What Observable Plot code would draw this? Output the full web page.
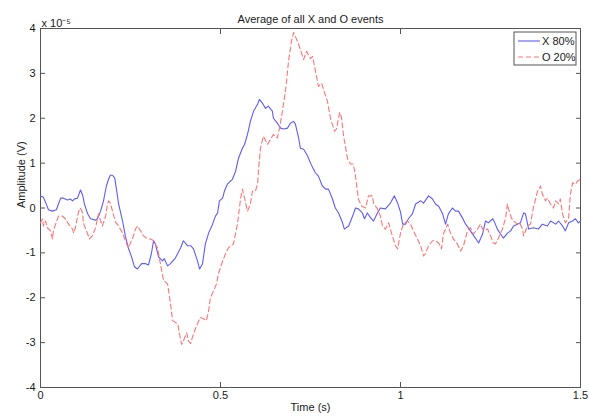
<!DOCTYPE html>
<html><head><meta charset="utf-8">
<script src="https://cdn.jsdelivr.net/npm/d3@7"></script>
<script src="https://cdn.jsdelivr.net/npm/@observablehq/plot@0.6"></script>
<style>
html,body{margin:0;padding:0;background:#fff;}
#chart{width:589px;height:416px;}
</style></head><body><div id="chart"></div>
<script>
const title = "Average of all X and O events";
const xLabel = "Time (s)";
const yLabel = "Amplitude (V)";
const yExponent = "x 10⁻⁵";
const xTicks = [0, 0.5, 1, 1.5];
const yTicks = [-4, -3, -2, -1, 0, 1, 2, 3, 4];
const seriesNames = ["X 80%", "O 20%"];
const seriesColors = ["#5c5cff", "#ff7474"];

// X 80% : time (s) and amplitude (x 10^-5 V)
const xTime = [0,0.008,0.017,0.022,0.033,0.044,0.056,0.064,0.075,0.083,0.089,0.094,0.103,0.111,0.117,0.122,0.131,0.139,0.153,0.158,0.167,0.175,0.183,0.189,0.194,0.2,0.206,0.211,0.217,0.228,0.236,0.244,0.253,0.261,0.269,0.281,0.292,0.3,0.308,0.314,0.319,0.328,0.339,0.344,0.353,0.361,0.375,0.389,0.397,0.408,0.417,0.425,0.436,0.442,0.45,0.458,0.467,0.478,0.486,0.492,0.497,0.506,0.511,0.519,0.533,0.542,0.55,0.561,0.567,0.575,0.583,0.592,0.603,0.608,0.617,0.625,0.633,0.644,0.647,0.658,0.667,0.675,0.686,0.694,0.703,0.708,0.717,0.722,0.731,0.742,0.75,0.758,0.764,0.772,0.783,0.792,0.8,0.811,0.819,0.828,0.839,0.844,0.856,0.867,0.875,0.883,0.894,0.9,0.908,0.917,0.925,0.936,0.944,0.958,0.972,0.983,0.992,1.0,1.006,1.014,1.022,1.033,1.042,1.056,1.064,1.078,1.089,1.097,1.106,1.117,1.125,1.133,1.144,1.153,1.161,1.172,1.181,1.194,1.208,1.217,1.228,1.236,1.244,1.256,1.261,1.269,1.278,1.286,1.297,1.306,1.314,1.325,1.333,1.342,1.347,1.356,1.369,1.383,1.394,1.408,1.417,1.431,1.439,1.45,1.458,1.467,1.478,1.486,1.494,1.5];
const xAmp = [0.27,0.24,0.07,-0.04,-0.07,-0.04,0.22,0.22,0.18,0.2,0.16,0.2,0.22,0.4,0.29,0.09,-0.13,-0.24,-0.27,-0.24,-0.07,0.16,0.49,0.64,0.73,0.73,0.67,0.42,0.09,-0.29,-0.64,-0.89,-1.09,-1.31,-1.36,-1.24,-1.24,-1.27,-1.02,-0.73,-0.8,-1.09,-1.18,-1.13,-1.29,-1.24,-1.11,-0.89,-0.73,-0.84,-0.84,-0.91,-1.18,-1.36,-1.24,-0.8,-0.56,-0.36,-0.18,-0.11,0.16,0.22,0.38,0.53,0.64,0.82,1.11,1.33,1.42,1.64,1.93,2.16,2.31,2.42,2.33,2.22,2.27,2.16,2.0,1.89,1.78,1.76,1.78,1.89,1.93,1.87,1.56,1.33,1.31,1.16,1.0,0.87,0.78,0.71,0.49,0.42,0.42,0.2,0.0,-0.11,-0.33,-0.47,-0.4,-0.18,0.0,-0.02,-0.11,-0.24,-0.11,-0.22,-0.29,-0.11,0.0,-0.02,0.11,0.27,0.11,-0.09,-0.36,-0.36,-0.24,-0.13,0.09,0.16,0.11,0.27,0.2,0.09,0.04,-0.13,-0.36,-0.13,0.0,-0.07,-0.07,-0.22,-0.36,-0.51,-0.67,-0.78,-0.58,-0.29,-0.33,-0.24,-0.31,-0.47,-0.58,-0.67,-0.56,-0.51,-0.4,-0.36,-0.33,-0.11,-0.13,-0.47,-0.44,-0.47,-0.36,-0.4,-0.29,-0.36,-0.29,-0.4,-0.51,-0.33,-0.29,-0.24,-0.33,-0.29];

// O 20% : time (s) and amplitude (x 10^-5 V)
const oTime = [0,0.006,0.008,0.014,0.019,0.028,0.033,0.036,0.042,0.05,0.061,0.069,0.078,0.089,0.092,0.097,0.106,0.111,0.117,0.119,0.131,0.136,0.144,0.153,0.161,0.167,0.172,0.181,0.186,0.189,0.194,0.2,0.208,0.217,0.228,0.236,0.244,0.256,0.264,0.269,0.278,0.286,0.297,0.306,0.314,0.325,0.333,0.342,0.353,0.361,0.367,0.381,0.386,0.392,0.397,0.406,0.411,0.417,0.425,0.436,0.444,0.453,0.461,0.467,0.472,0.481,0.489,0.494,0.506,0.514,0.522,0.536,0.547,0.556,0.561,0.564,0.575,0.583,0.589,0.597,0.603,0.606,0.611,0.619,0.631,0.639,0.647,0.658,0.664,0.672,0.681,0.689,0.697,0.703,0.714,0.722,0.731,0.739,0.75,0.756,0.764,0.772,0.781,0.786,0.797,0.806,0.817,0.822,0.831,0.836,0.842,0.853,0.861,0.869,0.875,0.883,0.892,0.903,0.911,0.922,0.925,0.936,0.944,0.95,0.958,0.967,0.975,0.986,0.992,1.0,1.008,1.019,1.028,1.036,1.047,1.056,1.064,1.069,1.078,1.089,1.097,1.106,1.114,1.119,1.131,1.139,1.147,1.158,1.167,1.175,1.186,1.194,1.203,1.214,1.222,1.231,1.242,1.25,1.258,1.264,1.272,1.283,1.292,1.297,1.3,1.308,1.314,1.325,1.331,1.339,1.342,1.353,1.361,1.369,1.381,1.389,1.394,1.403,1.408,1.417,1.425,1.431,1.439,1.444,1.45,1.458,1.467,1.472,1.478,1.486,1.492,1.5];
const oAmp = [-0.33,-0.24,-0.4,-0.29,-0.44,-0.51,-0.69,-0.51,-0.36,-0.18,-0.18,-0.24,-0.36,-0.47,-0.56,-0.44,-0.07,0.0,-0.11,-0.33,-0.58,-0.69,-0.62,-0.44,-0.13,-0.29,-0.4,-0.18,0.09,0.16,0.11,-0.07,-0.31,-0.4,-0.56,-0.73,-0.89,-0.67,-0.47,-0.4,-0.51,-0.62,-0.69,-0.69,-0.73,-0.89,-1.24,-1.62,-1.69,-2.13,-2.51,-2.58,-2.8,-3.04,-2.96,-2.78,-2.96,-3.02,-2.8,-2.58,-2.44,-2.47,-2.51,-2.29,-2.0,-1.84,-1.69,-1.47,-1.18,-1.02,-0.89,-0.8,-0.36,0.22,0.42,0.31,-0.07,0.09,0.38,0.38,0.53,0.89,1.33,1.6,1.42,1.53,1.64,1.56,1.78,2.16,2.64,3.27,3.71,3.91,3.71,3.53,3.31,3.49,3.33,3.38,3.04,2.71,2.78,2.64,2.38,1.98,1.71,1.76,2.13,2.02,1.6,1.09,0.98,0.98,0.71,0.2,0.04,0.0,0.27,0.27,0.11,-0.02,-0.18,-0.4,-0.47,-0.33,-0.56,-0.84,-0.91,-0.56,-0.36,-0.29,-0.36,-0.51,-0.69,-0.84,-1.07,-1.02,-0.84,-0.73,-0.73,-0.78,-0.91,-0.58,-0.36,-0.56,-0.69,-0.8,-0.96,-0.84,-0.51,-0.44,-0.58,-0.47,-0.36,-0.51,-0.47,-0.62,-0.78,-0.8,-0.67,-0.47,-0.22,0.09,-0.02,-0.22,-0.29,-0.36,-0.33,-0.47,-0.62,-0.4,-0.36,0.0,0.38,0.49,0.31,0.16,0.22,0.09,0.0,0.16,0.09,0.2,-0.13,-0.33,-0.22,0.31,0.56,0.53,0.6,0.64];

const xRows = xTime.map((t, i) => ({t, v: xAmp[i]}));
const oRows = oTime.map((t, i) => ({t, v: oAmp[i]}));

const font = "'Liberation Sans', Arial, Helvetica, sans-serif";
const axisColor = "#555";

const chart = Plot.plot({
  width: 589,
  height: 416,
  marginLeft: 40,
  marginRight: 9,
  marginTop: 28,
  marginBottom: 29,
  style: {fontFamily: font, fontSize: "11px", color: "#1a1a1a", background: "#fff"},
  x: {domain: [0, 1.5]},
  y: {domain: [-4, 4]},
  marks: [
    Plot.frame({stroke: axisColor}),
    Plot.axisX(xTicks, {anchor: "bottom", tickSize: -5, tickPadding: 9, tickFormat: d => String(d), label: null, stroke: axisColor}),
    Plot.axisX(xTicks, {anchor: "top", tickSize: -5, tickFormat: () => "", label: null, stroke: axisColor}),
    Plot.axisY(yTicks, {anchor: "left", tickSize: -5, tickPadding: 10, tickFormat: d => String(d), label: null, stroke: axisColor}),
    Plot.axisY(yTicks, {anchor: "right", tickSize: -5, tickFormat: () => "", label: null, stroke: axisColor}),
    Plot.line(xRows, {x: "t", y: "v", stroke: seriesColors[0], strokeWidth: 1.1}),
    Plot.line(oRows, {x: "t", y: "v", stroke: seriesColors[1], strokeWidth: 1.1, strokeDasharray: "5,3"}),
    Plot.text([title], {text: d => d, frameAnchor: "top", dy: -13, fontSize: 11}),
    Plot.text([yExponent], {text: d => d, frameAnchor: "top-left", textAnchor: "start", dy: -9, dx: 1, fontSize: 11}),
    Plot.text([yLabel], {text: d => d, frameAnchor: "left", rotate: -90, dx: -19, fontSize: 11}),
    Plot.text([xLabel], {text: d => d, frameAnchor: "bottom", dy: 23, fontSize: 11})
  ]
});
document.getElementById("chart").appendChild(chart);

// Legend box in the upper right corner of the axes
const xScale = chart.scale("x"), yScale = chart.scale("y");
const frameRight = xScale.range[1], frameTop = Math.min(...yScale.range);
const svgSel = d3.select(chart);
const lg = svgSel.append("g").attr("transform", `translate(${frameRight - 66},${frameTop + 4})`);
lg.append("rect").attr("width", 62).attr("height", 33).attr("fill", "#fff").attr("stroke", axisColor).attr("stroke-width", 1);
seriesNames.forEach((name, i) => {
  const yy = 9 + i * 16;
  lg.append("line").attr("x1", 4).attr("x2", 26).attr("y1", yy).attr("y2", yy)
    .attr("stroke", seriesColors[i]).attr("stroke-width", 1.1)
    .attr("stroke-dasharray", i === 1 ? "5,3" : null);
  lg.append("text").attr("x", 28).attr("y", yy).attr("dy", "0.35em")
    .attr("text-anchor", "start")
    .attr("font-family", font).attr("font-size", 11).attr("fill", "#1a1a1a").text(name);
});
</script>
</body></html>
